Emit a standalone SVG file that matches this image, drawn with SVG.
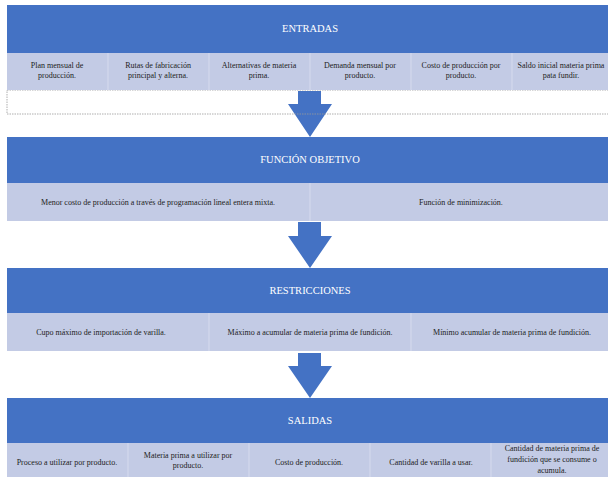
<svg xmlns="http://www.w3.org/2000/svg" width="608" height="481" viewBox="0 0 608 481">
<defs>
<style>
.hdr{fill:#4472C4}
.row{fill:#C3CBE5}
.div{stroke:#D6DBEE;stroke-width:1}
.ht{font-family:"Liberation Serif",serif;font-size:10.5px;fill:#FFFFFF;text-anchor:middle}
.ct{font-family:"Liberation Serif",serif;font-size:8px;fill:#222222;text-anchor:middle}
.arr{fill:#4472C4}
</style>
<path id="arrow" d="M-12,0 H11 V13 H22 L0,46 L-22,13 H-12 Z"/>
</defs>
<rect width="608" height="481" fill="#FFFFFF"/>
<g id="connectors">
<path class="arr" d="M298,91 H321 V104 H332 L310,137 L288,104 H298 Z"/>
<path class="arr" d="M298,222 H321 V236 H332 L310,268 L288,236 H298 Z"/>
<path class="arr" d="M298,353 H321 V366 H332 L310,398 L288,366 H298 Z"/>
</g>
<g id="entradas">
<rect x="7" y="90" width="610" height="24" fill="none" stroke="#9A9A9A" stroke-width="0.8" stroke-dasharray="1.5,1"/>
<rect class="hdr" x="7" y="5" width="606" height="48"/>
<text class="ht" x="310" y="32">ENTRADAS</text>
<rect class="row" x="7" y="53" width="606" height="37"/>
<line class="div" x1="108" y1="53" x2="108" y2="90"/>
<line class="div" x1="209" y1="53" x2="209" y2="90"/>
<line class="div" x1="310" y1="53" x2="310" y2="90"/>
<line class="div" x1="411" y1="53" x2="411" y2="90"/>
<line class="div" x1="512" y1="53" x2="512" y2="90"/>
<text class="ct" x="57" y="68">Plan mensual de</text>
<text class="ct" x="57" y="78">producción.</text>
<text class="ct" x="158" y="68">Rutas de fabricación</text>
<text class="ct" x="158" y="78">principal y alterna.</text>
<text class="ct" x="259" y="68">Alternativas de materia</text>
<text class="ct" x="259" y="78">prima.</text>
<text class="ct" x="360" y="68">Demanda mensual por</text>
<text class="ct" x="360" y="78">producto.</text>
<text class="ct" x="461" y="68">Costo de producción por</text>
<text class="ct" x="461" y="78">producto.</text>
<text class="ct" x="561" y="68">Saldo inicial materia prima</text>
<text class="ct" x="561" y="78">pata fundir.</text>
</g>
<g id="funcion-objetivo">
<rect class="hdr" x="7" y="137" width="606" height="46"/>
<text class="ht" x="310" y="163">FUNCIÓN OBJETIVO</text>
<rect class="row" x="7" y="183" width="606" height="38"/>
<line class="div" x1="310" y1="183" x2="310" y2="221"/>
<text class="ct" x="158" y="205">Menor costo de producción a través de programación lineal entera mixta.</text>
<text class="ct" x="461" y="205">Función de minimización.</text>
</g>
<g id="restricciones">
<rect class="hdr" x="7" y="268" width="606" height="45"/>
<text class="ht" x="310" y="294">RESTRICCIONES</text>
<rect class="row" x="7" y="313" width="606" height="38"/>
<line class="div" x1="209" y1="313" x2="209" y2="351"/>
<line class="div" x1="411" y1="313" x2="411" y2="351"/>
<text class="ct" x="101" y="335">Cupo máximo de importación de varilla.</text>
<text class="ct" x="310" y="335">Máximo a acumular de materia prima de fundición.</text>
<text class="ct" x="512" y="335">Mínimo acumular de materia prima de fundición.</text>
</g>
<g id="salidas">
<rect class="hdr" x="7" y="398" width="606" height="45"/>
<text class="ht" x="310" y="424">SALIDAS</text>
<rect class="row" x="7" y="443" width="606" height="34"/>
<line class="div" x1="128" y1="443" x2="128" y2="477"/>
<line class="div" x1="249" y1="443" x2="249" y2="477"/>
<line class="div" x1="370" y1="443" x2="370" y2="477"/>
<line class="div" x1="491" y1="443" x2="491" y2="477"/>
<text class="ct" x="67" y="465">Proceso a utilizar por producto.</text>
<text class="ct" x="188" y="458">Materia prima a utilizar por</text>
<text class="ct" x="188" y="468">producto.</text>
<text class="ct" x="309" y="465">Costo de producción.</text>
<text class="ct" x="431" y="465">Cantidad de varilla a usar.</text>
<text class="ct" x="552" y="451">Cantidad de materia prima de</text>
<text class="ct" x="552" y="462">fundición que se consume o</text>
<text class="ct" x="552" y="473">acumula.</text>
</g>
</svg>
